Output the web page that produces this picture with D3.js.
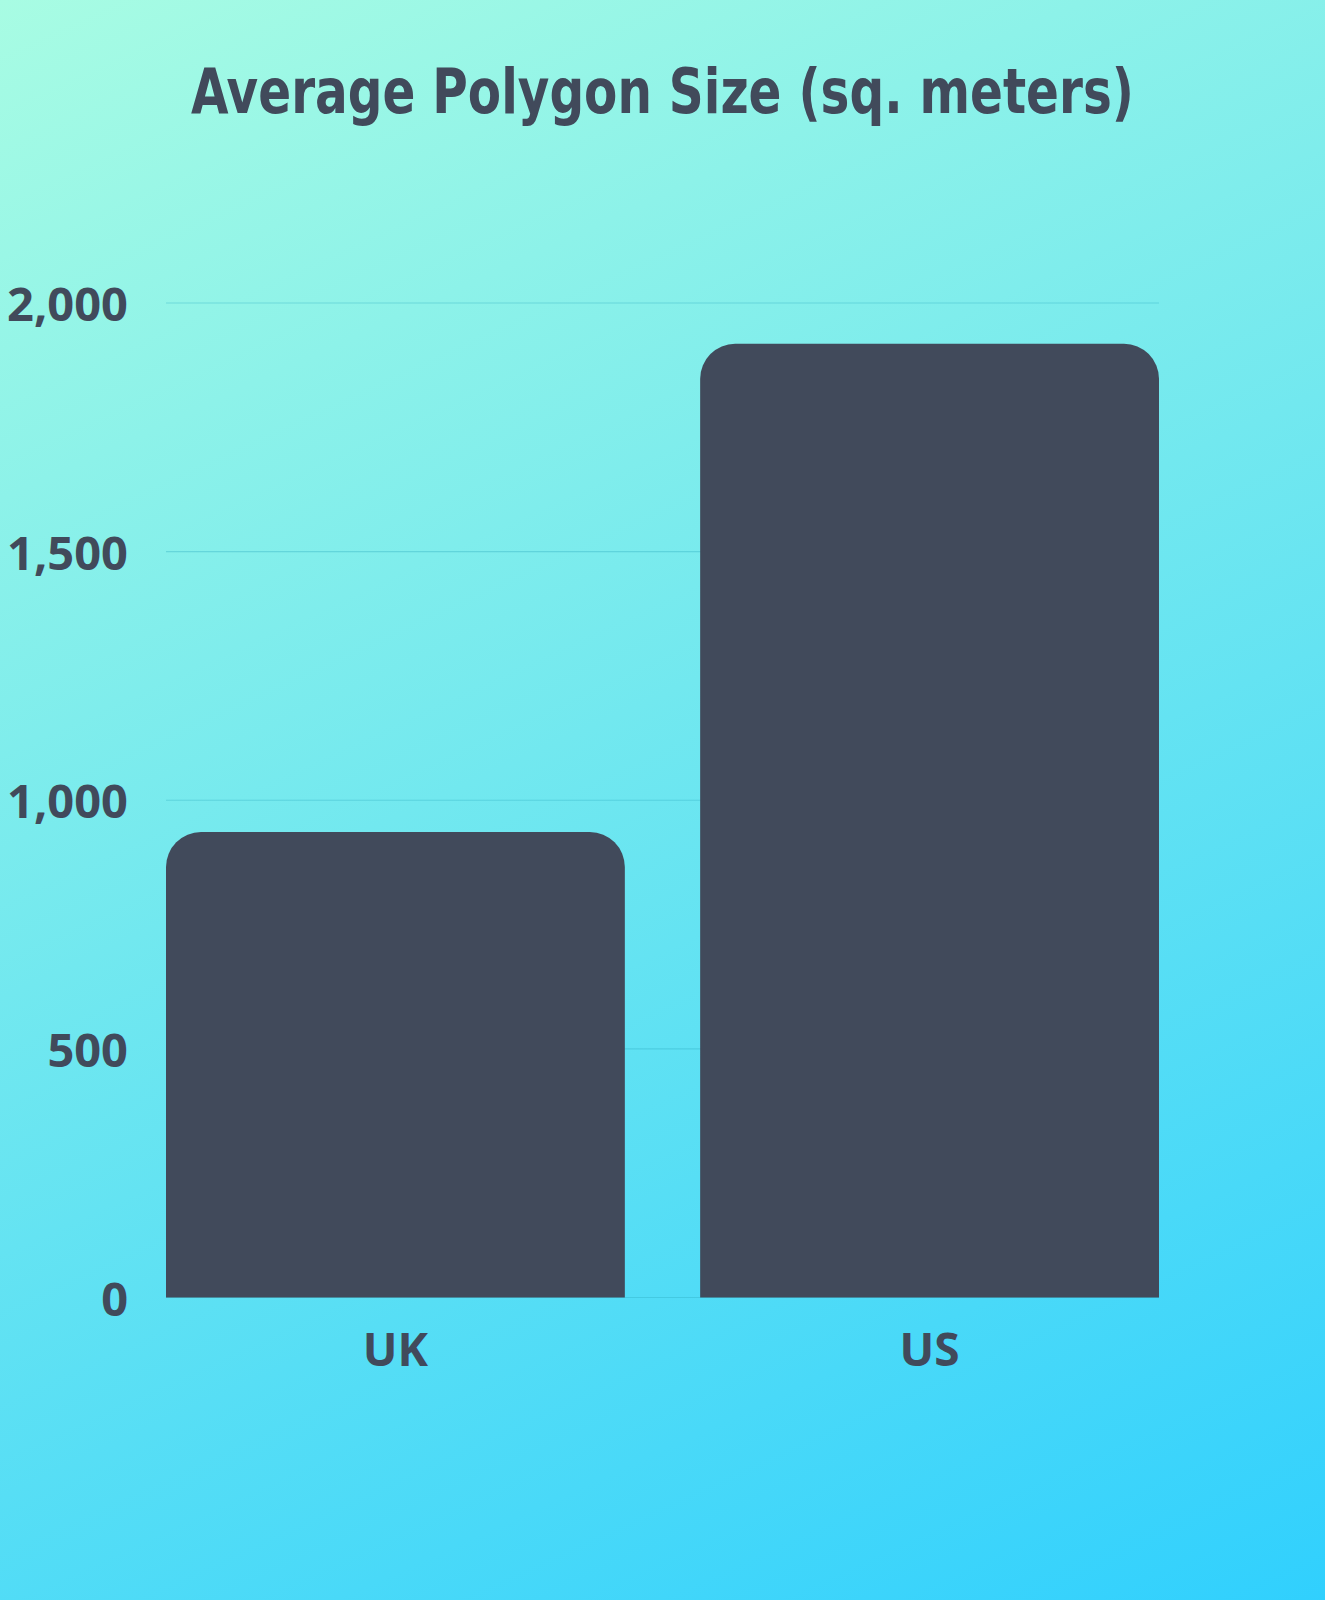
<!DOCTYPE html>
<html>
<head>
<meta charset="utf-8">
<script src="https://cdn.jsdelivr.net/npm/d3@7"></script>
<style>
  html, body { margin: 0; padding: 0; }
  body { width: 1325px; height: 1600px; overflow: hidden; }
</style>
</head>
<body>
<script>
// values
const countries = ["UK", "US"];
const avgSize = [936, 1918];
const yTicks = [0, 500, 1000, 1500, 2000];
const title = "Average Polygon Size (sq. meters)";

const W = 1325, H = 1600;
const ink = "#414a5b";

const svg = d3.select("body")
  .append("svg")
  .attr("width", W)
  .attr("height", H);

// background gradient, mint top-left to sky blue bottom-right (mostly vertical)
const grad = svg.append("defs").append("linearGradient")
  .attr("id", "bg")
  .attr("gradientUnits", "userSpaceOnUse")
  .attr("x1", 0).attr("y1", 0)
  .attr("x2", 855).attr("y2", 1860);
grad.append("stop").attr("offset", "0%").attr("stop-color", "#a8fce3");
grad.append("stop").attr("offset", "100%").attr("stop-color", "#2ecffe");

svg.append("rect")
  .attr("width", W).attr("height", H)
  .attr("fill", "url(#bg)");

svg.append("text")
  .attr("x", W / 2)
  .attr("y", 113)
  .attr("text-anchor", "middle")
  .attr("font-family", "'Liberation Sans Narrow', 'DejaVu Sans Condensed', sans-serif")
  .attr("font-weight", "bold")
  .attr("font-size", 62)
  .attr("textLength", 943)
  .attr("lengthAdjust", "spacingAndGlyphs")
  .attr("fill", ink)
  .text(title);

const x = d3.scaleBand()
  .domain(countries)
  .range([166, 1159])
  .paddingInner(0.141)
  .paddingOuter(0);

const y = d3.scaleLinear()
  .domain([0, 2000])
  .range([1297.5, 303]);

// grid lines
svg.append("g")
  .selectAll("line")
  .data(yTicks)
  .join("line")
  .attr("x1", 166)
  .attr("x2", 1159)
  .attr("y1", d => y(d))
  .attr("y2", d => y(d))
  .attr("stroke", "#2aa9bd")
  .attr("stroke-opacity", 0.35)
  .attr("stroke-width", 1.2);

// y labels
const fmt = d3.format(",");
svg.append("g")
  .selectAll("text")
  .data(yTicks)
  .join("text")
  .attr("x", 128)
  .attr("y", d => y(d))
  .attr("dy", 18)
  .attr("text-anchor", "end")
  .attr("font-family", "'Open Sans', sans-serif")
  .attr("font-weight", "bold")
  .attr("font-size", 47)
  .attr("fill", ink)
  .text(d => fmt(d));

// bars with rounded top corners
const r = 35;
function barPath(x0, w, yTop, yBase) {
  const p = d3.path();
  p.moveTo(x0, yBase);
  p.lineTo(x0, yTop + r);
  p.arcTo(x0, yTop, x0 + r, yTop, r);
  p.lineTo(x0 + w - r, yTop);
  p.arcTo(x0 + w, yTop, x0 + w, yTop + r, r);
  p.lineTo(x0 + w, yBase);
  p.closePath();
  return p.toString();
}

const bars = countries.map((c, i) => ({ country: c, value: avgSize[i] }));

svg.append("g")
  .selectAll("path")
  .data(bars)
  .join("path")
  .attr("d", d => barPath(x(d.country), x.bandwidth(), y(d.value), y(0)))
  .attr("fill", ink);

// x labels
svg.append("g")
  .selectAll("text")
  .data(bars)
  .join("text")
  .attr("x", d => x(d.country) + x.bandwidth() / 2)
  .attr("y", 1366)
  .attr("text-anchor", "middle")
  .attr("font-family", "'Open Sans', sans-serif")
  .attr("font-weight", "bold")
  .attr("font-size", 46)
  .attr("fill", ink)
  .text(d => d.country);
</script>
</body>
</html>
